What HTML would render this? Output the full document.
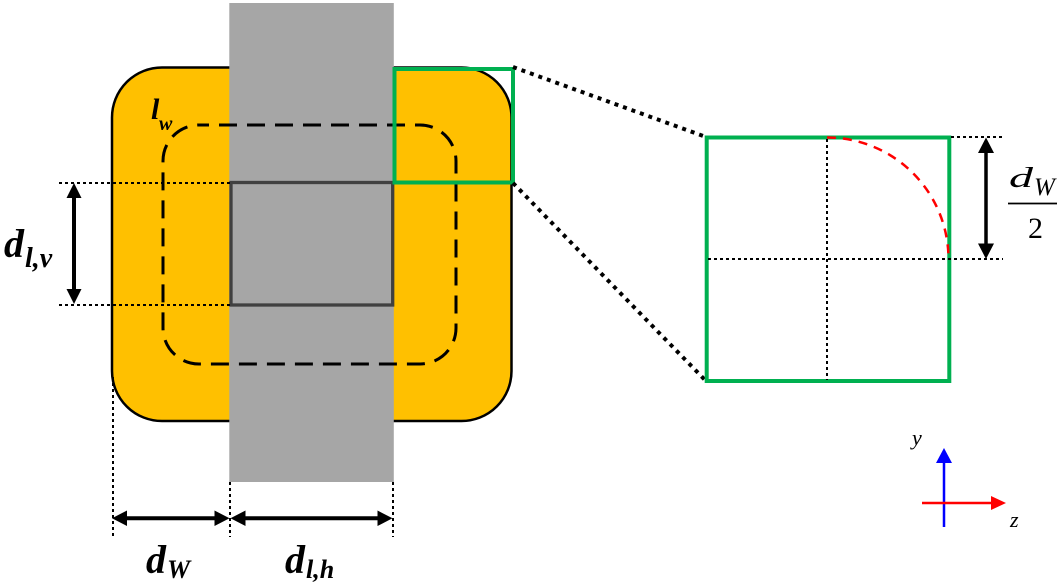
<!DOCTYPE html>
<html><head><meta charset="utf-8"><style>
html,body{margin:0;padding:0;background:#fff;}
svg{display:block;}
</style></head><body>
<svg width="1060" height="588" viewBox="0 0 1060 588" xmlns="http://www.w3.org/2000/svg">
<!-- orange rounded rect -->
<rect x="112" y="67.5" width="399.5" height="353.5" rx="50" ry="50" fill="#FFC000" stroke="#000" stroke-width="2.5"/>
<!-- gray bar -->
<rect x="229.3" y="3" width="164.5" height="479" fill="#A6A6A6"/>
<!-- inner dark rect -->
<rect x="231" y="182.5" width="161.7" height="122.5" fill="none" stroke="#404040" stroke-width="3.3"/>
<!-- dashed rounded rect -->
<rect x="163" y="125" width="293" height="239" rx="36" ry="36" fill="none" stroke="#000" stroke-width="3" stroke-dasharray="18 10" stroke-dashoffset="8"/>
<!-- small green rect -->
<rect x="394.5" y="69" width="118.5" height="113.5" fill="none" stroke="#00B050" stroke-width="4"/>
<!-- connecting dotted lines -->
<line x1="513" y1="67" x2="706" y2="137" stroke="#000" stroke-width="4" stroke-dasharray="4 5"/>
<line x1="513" y1="183" x2="706" y2="381" stroke="#000" stroke-width="4" stroke-dasharray="4 5"/>
<!-- big green square -->
<rect x="706.7" y="137.5" width="242.6" height="243.5" fill="none" stroke="#00B050" stroke-width="4"/>
<!-- inner dotted lines right -->
<line x1="827" y1="139" x2="827" y2="380" stroke="#000" stroke-width="2" stroke-dasharray="3 3"/>
<line x1="708" y1="259" x2="1003" y2="259" stroke="#000" stroke-width="2" stroke-dasharray="3 3"/>
<line x1="951" y1="137" x2="1003" y2="137" stroke="#000" stroke-width="2" stroke-dasharray="3 3"/>
<!-- red arc -->
<path d="M827,137.5 A121.5,121.5 0 0 1 948.5,259" fill="none" stroke="#FF0000" stroke-width="2.5" stroke-dasharray="9 7"/>
<!-- dW/2 arrow -->
<line x1="986" y1="150" x2="986" y2="246" stroke="#000" stroke-width="3.5"/>
<polygon points="986,137.5 978,153 994,153" fill="#000"/>
<polygon points="986,259 978,243.5 994,243.5" fill="#000"/>
<!-- fraction -->
<text x="1009" y="187" font-family="Liberation Serif, serif" font-style="italic" font-size="28" textLength="24" lengthAdjust="spacingAndGlyphs">d</text>
<text x="1034" y="195" font-family="Liberation Serif, serif" font-style="italic" font-size="25">W</text>
<line x1="1008" y1="203.5" x2="1057" y2="203.5" stroke="#000" stroke-width="1.8"/>
<text x="1028" y="238" font-family="Liberation Serif, serif" font-size="30">2</text>

<!-- left dotted horizontal lines -->
<line x1="59" y1="183" x2="230" y2="183" stroke="#000" stroke-width="2" stroke-dasharray="3 3"/>
<line x1="59" y1="305" x2="230" y2="305" stroke="#000" stroke-width="2" stroke-dasharray="3 3"/>
<!-- d_l,v arrow -->
<line x1="74" y1="196" x2="74" y2="291" stroke="#000" stroke-width="4"/>
<polygon points="74,183 66.5,198 81.5,198" fill="#000"/>
<polygon points="74,304 66.5,289 81.5,289" fill="#000"/>
<text x="4" y="257" font-family="Liberation Serif, serif" font-style="italic" font-weight="bold" font-size="40">d</text>
<text x="25" y="267" font-family="Liberation Serif, serif" font-style="italic" font-weight="bold" font-size="28">l,v</text>

<!-- l_w -->
<text x="151" y="119" font-family="Liberation Serif, serif" font-style="italic" font-weight="bold" font-size="30">l</text>
<text x="159" y="130" font-family="Liberation Serif, serif" font-style="italic" font-weight="bold" font-size="20">w</text>

<!-- bottom vertical dotted lines -->
<line x1="113" y1="377" x2="113" y2="539" stroke="#000" stroke-width="2" stroke-dasharray="3 3"/>
<line x1="230" y1="482" x2="230" y2="537" stroke="#000" stroke-width="2" stroke-dasharray="3 3"/>
<line x1="393" y1="482" x2="393" y2="537" stroke="#000" stroke-width="2" stroke-dasharray="3 3"/>
<!-- bottom arrows -->
<line x1="124" y1="518.3" x2="217" y2="518.3" stroke="#000" stroke-width="4"/>
<polygon points="112,518.3 127,510.5 127,526" fill="#000"/>
<polygon points="229.5,518.3 214.5,510.5 214.5,526" fill="#000"/>
<line x1="242" y1="518.3" x2="380" y2="518.3" stroke="#000" stroke-width="4"/>
<polygon points="230.5,518.3 245.5,510.5 245.5,526" fill="#000"/>
<polygon points="392.5,518.3 377.5,510.5 377.5,526" fill="#000"/>
<text x="146" y="573" font-family="Liberation Serif, serif" font-style="italic" font-weight="bold" font-size="40">d</text>
<text x="167" y="578" font-family="Liberation Serif, serif" font-style="italic" font-weight="bold" font-size="26">W</text>
<text x="285" y="573" font-family="Liberation Serif, serif" font-style="italic" font-weight="bold" font-size="40">d</text>
<text x="306" y="578" font-family="Liberation Serif, serif" font-style="italic" font-weight="bold" font-size="26">l,h</text>

<!-- axes -->
<line x1="944" y1="527" x2="944" y2="460" stroke="#0000FF" stroke-width="2.5"/>
<polygon points="944,448 936,463 952,463" fill="#0000FF"/>
<line x1="922" y1="503" x2="993" y2="503" stroke="#FF0000" stroke-width="2.5"/>
<polygon points="1006,503 991,496 991,510" fill="#FF0000"/>
<text x="912" y="445" font-family="Liberation Serif, serif" font-style="italic" font-size="22">y</text>
<text x="1010" y="527" font-family="Liberation Serif, serif" font-style="italic" font-size="22">z</text>
</svg>
</body></html>
